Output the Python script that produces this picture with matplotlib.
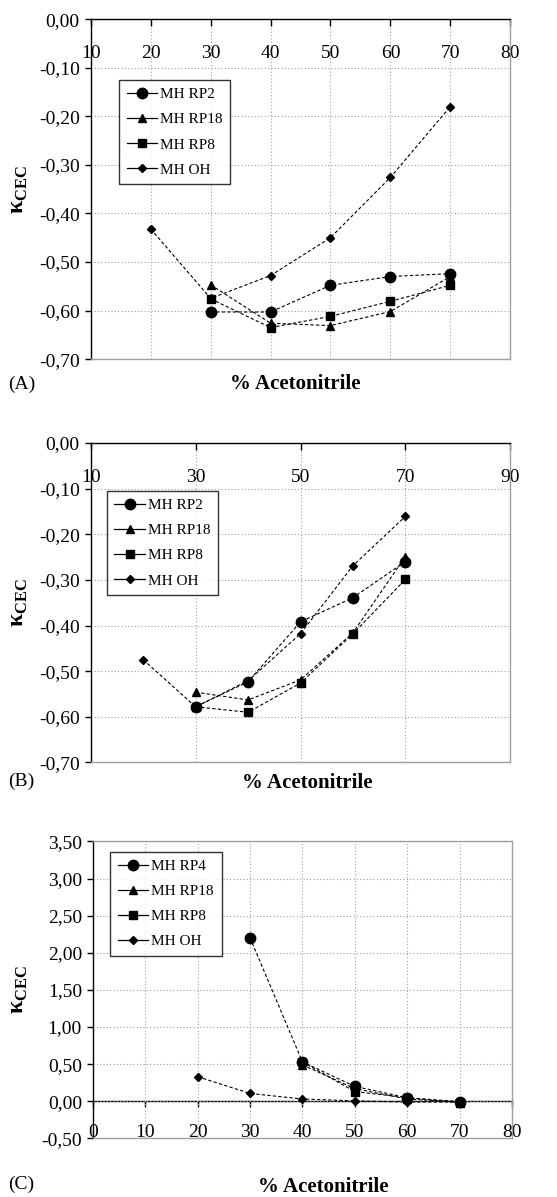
import numpy as np
import matplotlib
matplotlib.use('Agg')
import matplotlib.pyplot as plt
from matplotlib.lines import Line2D
from matplotlib.ticker import FuncFormatter

plt.rcParams['font.family'] = ['Liberation Serif', 'DejaVu Serif']
plt.rcParams['mathtext.fontset'] = 'custom'
plt.rcParams['mathtext.rm'] = 'Liberation Serif'
plt.rcParams['mathtext.bf'] = 'Liberation Serif:bold'

# % acetonitrile
x = [20, 30, 40, 50, 60, 70]
nan = np.nan

# panel A
a_labels = ['MH RP2', 'MH RP18', 'MH RP8', 'MH OH']
a_rp2 = [nan, -0.603, -0.603, -0.548, -0.530, -0.524]
a_rp18 = [nan, -0.547, -0.626, -0.631, -0.602, -0.530]
a_rp8 = [nan, -0.576, -0.635, -0.612, -0.581, -0.548]
a_oh = [-0.432, -0.575, -0.528, -0.450, -0.326, -0.180]

# panel B
b_labels = ['MH RP2', 'MH RP18', 'MH RP8', 'MH OH']
b_rp2 = [nan, -0.578, -0.523, -0.392, -0.339, -0.260]
b_rp18 = [nan, -0.546, -0.563, -0.519, -0.416, -0.249]
b_rp8 = [nan, -0.578, -0.590, -0.526, -0.418, -0.299]
b_oh = [-0.475, -0.578, -0.521, -0.418, -0.269, -0.161]

# panel C
c_labels = ['MH RP4', 'MH RP18', 'MH RP8', 'MH OH']
c_rp4 = [nan, 2.20, 0.53, 0.20, 0.047, -0.005]
c_rp18 = [nan, nan, 0.49, 0.17, 0.03, -0.01]
c_rp8 = [nan, nan, 0.53, 0.13, 0.05, -0.02]
c_oh = [0.33, 0.105, 0.03, 0.005, -0.01, -0.01]

markers = ['o', '^', 's', 'D']
msizes = [7.5, 5.5, 5.5, 3.8]
GRAY = '#a0a0a0'


def comma_fmt(v, p):
    if abs(v) < 1e-9:
        v = 0.0
    return f'{v:.2f}'.replace('.', ',')


comma = FuncFormatter(comma_fmt)


def draw(ax, series, labels, leg_xy):
    handles = []
    for ys, lab, m, ms in zip(series, labels, markers, msizes):
        ys = np.array(ys, dtype=float)
        ok = ~np.isnan(ys)
        ax.plot(np.array(x)[ok], ys[ok], color='black', lw=0.8,
                dashes=(3, 2), marker=m, ms=ms, mfc='black', mec='black',
                zorder=3)
        handles.append(Line2D([], [], color='black', lw=0.9, marker=m, ms=ms,
                              mfc='black', mec='black', label=lab))
    leg = ax.legend(handles=handles, loc='upper left', bbox_to_anchor=leg_xy,
                    fontsize=11, frameon=True, fancybox=False,
                    edgecolor='black', handlelength=2.0, labelspacing=0.75,
                    borderpad=0.5, handletextpad=0.2, borderaxespad=0)
    leg.get_frame().set_linewidth(1.0)
    ax.grid(True, color=GRAY, lw=0.8, dashes=(1, 2))
    ax.set_axisbelow(True)
    ax.yaxis.set_major_formatter(comma)
    ax.tick_params(axis='y', direction='out', length=4, width=1,
                   labelsize=14, pad=4)
    for s in ['right', 'bottom', 'top']:
        ax.spines[s].set_color(GRAY)
    ax.spines['left'].set_color('black')
    for s in ax.spines.values():
        s.set_linewidth(1.0)


fig = plt.figure(figsize=(5.57, 11.97), dpi=100)

ax_a = fig.add_axes([0.163, 0.700, 0.753, 0.284])
ax_b = fig.add_axes([0.163, 0.363, 0.753, 0.267])
ax_c = fig.add_axes([0.167, 0.049, 0.752, 0.248])

# panel A
draw(ax_a, [a_rp2, a_rp18, a_rp8, a_oh], a_labels, (0.067, 0.821))
ax_a.set_xlim(10, 80)
ax_a.set_ylim(-0.70, 0.0)
ax_a.set_xticks(np.arange(10, 81, 10))
ax_a.set_yticks(np.arange(-0.70, 0.001, 0.10))
ax_a.xaxis.tick_top()
ax_a.spines['top'].set_color('black')
ax_a.tick_params(axis='x', direction='in', length=5, width=1,
                 labelsize=14, pad=-31)

# panel B
draw(ax_b, [b_rp2, b_rp18, b_rp8, b_oh], b_labels, (0.038, 0.850))
ax_b.set_xlim(10, 90)
ax_b.set_ylim(-0.70, 0.0)
ax_b.set_xticks(np.arange(10, 91, 20))
ax_b.set_yticks(np.arange(-0.70, 0.001, 0.10))
ax_b.xaxis.tick_top()
ax_b.spines['top'].set_color('black')
ax_b.tick_params(axis='x', direction='in', length=5, width=1,
                 labelsize=14, pad=-31)

# panel C
draw(ax_c, [c_rp4, c_rp18, c_rp8, c_oh], c_labels, (0.041, 0.966))
ax_c.set_xlim(0, 80)
ax_c.set_ylim(-0.50, 3.50)
ax_c.set_xticks(np.arange(0, 81, 10))
ax_c.set_yticks(np.arange(-0.50, 3.501, 0.50))
ax_c.tick_params(axis='x', length=0, labelsize=14, pad=-10)
zero = ax_c.secondary_xaxis(0.125)
zero.set_xticks(np.arange(0, 81, 10))
zero.tick_params(axis='x', direction='out', length=4, width=1,
                 labelbottom=False)
zero.spines['bottom'].set_color('black')
zero.spines['bottom'].set_linewidth(1.0)

# axis titles and panel letters
for ax in [ax_a, ax_b, ax_c]:
    pos = ax.get_position()
    fig.text(20 / 557, (pos.y0 + pos.y1) / 2, 'κ$_{\\mathbf{CEC}}$',
             rotation=90, ha='center', va='center', fontsize=17,
             fontweight='bold')

fig.text(295 / 557, 1 - 384 / 1197, '% Acetonitrile', ha='center',
         va='center', fontsize=15, fontweight='bold')
fig.text(307 / 557, 1 - 783 / 1197, '% Acetonitrile', ha='center',
         va='center', fontsize=15, fontweight='bold')
fig.text(323 / 557, 1 - 1187 / 1197, '% Acetonitrile', ha='center',
         va='center', fontsize=15, fontweight='bold')
fig.text(8 / 557, 1 - 384 / 1197, '(A)', ha='left', va='center', fontsize=14)
fig.text(8 / 557, 1 - 781 / 1197, '(B)', ha='left', va='center', fontsize=14)
fig.text(8 / 557, 1 - 1184 / 1197, '(C)', ha='left', va='center', fontsize=14)

fig.savefig('out.png', dpi=100)
